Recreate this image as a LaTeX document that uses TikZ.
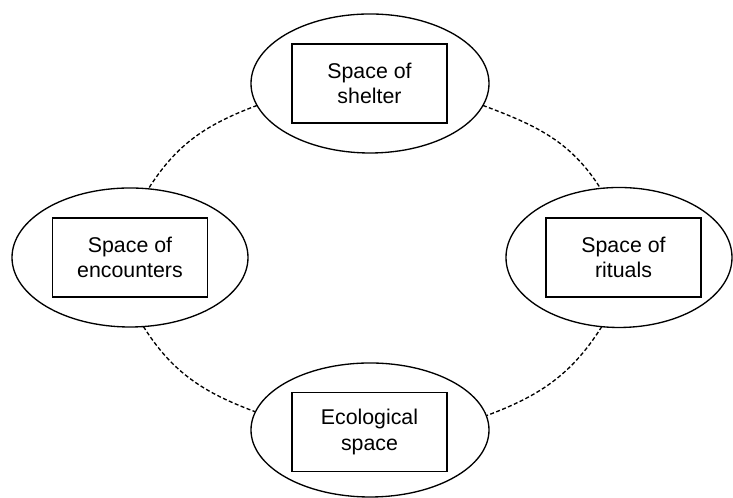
\documentclass[tikz,border=0pt]{standalone}
\usepackage{fontspec}
\setmainfont{Liberation Sans}
\usetikzlibrary{shapes.geometric}
\begin{document}
\begin{tikzpicture}[x=0.75pt,y=0.75pt,
  oval/.style={ellipse,draw,line width=1pt,inner sep=0pt,outer sep=0pt},
  box/.style={rectangle,draw,line width=1pt,inner sep=0pt,outer sep=0pt,
    minimum width=116.25pt,minimum height=59.25pt,align=center,
    font=\fontsize{16}{19}\selectfont},
  link/.style={line width=1pt,dash pattern=on 3pt off 1.8pt}]
\useasboundingbox (0,0) rectangle (733,498);
% ellipses (y measured upward: Y = 498 - y)
\node[oval,minimum width=178.5pt,minimum height=104.25pt] (top) at (370,414.5) {};
\node[oval,minimum width=177pt,minimum height=104.25pt] (left) at (130,240.5) {};
\node[oval,minimum width=169.5pt,minimum height=105pt] (right) at (619,240.5) {};
\node[oval,minimum width=178.5pt,minimum height=100.5pt] (bottom) at (370,68) {};
% boxes
\node[box] (topbox) at (369.5,414.5) {Space of\\shelter};
\node[box] (leftbox) at (130,240.5) {Space of\\encounters};
\node[box] (rightbox) at (623.5,240.5) {Space of\\rituals};
\node[box] (bottombox) at (369.5,66) {Ecological\\space};
% dashed connectors
\draw[link] (top.191.3) to[out=200.5,in=57.7] (left.75.5);
\draw[link] (top.349.6) to[out=339.5,in=122.3] (right.105.3);
\draw[link] (left.281.4) to[out=302.3,in=159.5] (bottom.171.7);
\draw[link] (right.256.3) to[out=237.7,in=20.5] (bottom.7.4);
\end{tikzpicture}
\end{document}
